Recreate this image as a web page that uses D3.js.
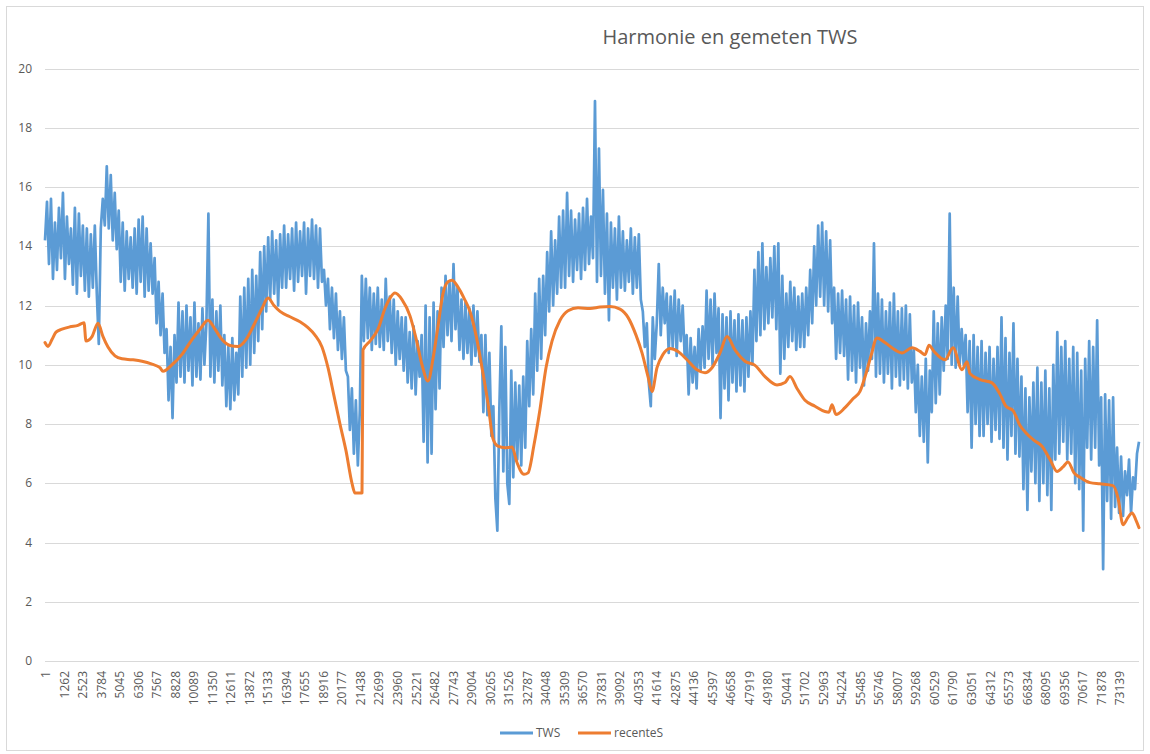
<!DOCTYPE html>
<html lang="nl">
<head>
    <meta charset="UTF-8">
    <title>Harmonie en gemeten TWS</title>
    <script src="https://cdnjs.cloudflare.com/ajax/libs/d3/7.8.5/d3.min.js"></script>
    <style>
        body {
            margin: 0;
            background: #fff;
            font-family: 'Open Sans', 'Noto Sans', sans-serif;
        }

        svg#main text {
            fill: #595959;
        }

        line.grid {
            stroke: #d9d9d9;
            stroke-width: 1px;
        }

        path.tws {
            fill: none;
            stroke: #5b9bd5;
            stroke-width: 2.7px;
            stroke-linejoin: round;
        }

        path.recent {
            fill: none;
            stroke: #ed7d31;
            stroke-width: 3px;
            stroke-linejoin: round;
            stroke-linecap: round;
        }
    </style>
</head>

<body>
    <svg id="main" width="1150" height="754"></svg>
    <script>
        "use strict";

        const categoryCount = 74505;
        const labelStep = 1261;
        const labelCount = 59;
        const yTicks = [0, 2, 4, 6, 8, 10, 12, 14, 16, 18, 20];
        const seriesNames = ["TWS", "recenteS"];

        // gemeten TWS, evenly spaced over all categories (lows and highs)
        const tws = [
            14.2, 15.5, 13.4, 15.6, 12.9, 14.8, 13.2, 15.3, 13.6, 15.8,
            12.9, 15.0, 13.4, 14.6, 12.7, 15.3, 12.4, 15.1, 13.0, 14.7,
            12.5, 14.6, 12.3, 14.4, 12.6, 14.7, 12.4, 10.7, 14.6, 15.6,
            14.7, 16.7, 14.6, 16.4, 14.2, 15.8, 13.9, 15.2, 12.8, 14.8,
            12.5, 14.5, 12.9, 14.3, 12.6, 14.6, 12.4, 14.9, 12.8, 15.0,
            12.3, 14.6, 12.5, 14.1, 12.4, 13.6, 11.4, 12.8, 11.0, 12.4,
            10.4, 11.2, 8.8, 10.6, 8.2, 11.0, 9.4, 12.1, 9.6, 11.8,
            9.4, 12.0, 9.8, 11.6, 9.3, 12.1, 9.6, 11.4, 9.5, 11.9,
            10.0, 11.4, 15.1, 9.6, 12.2, 9.4, 11.8, 9.8, 12.0, 9.3,
            11.0, 8.6, 10.6, 8.5, 10.9, 8.8, 10.4, 9.0, 12.3, 9.6,
            12.6, 9.9, 12.9, 10.0, 13.2, 10.4, 13.0, 10.8, 13.8, 11.2,
            14.0, 11.8, 14.3, 12.2, 14.5, 12.4, 14.2, 12.0, 14.4, 12.6,
            14.7, 12.6, 14.4, 12.9, 14.6, 12.5, 14.8, 12.8, 14.5, 13.0,
            14.8, 12.4, 14.6, 13.0, 14.9, 12.9, 14.7, 12.6, 14.6, 12.8,
            13.2, 12.0, 12.9, 11.2, 12.6, 10.9, 12.4, 10.5, 11.8, 10.2,
            11.6, 9.8, 9.6, 7.8, 9.2, 7.0, 8.8, 6.6, 8.5, 13.0,
            10.8, 12.9, 10.9, 12.6, 10.5, 12.4, 10.7, 12.6, 10.6, 12.2,
            10.5, 12.9, 10.8, 12.3, 10.4, 12.2, 10.0, 11.8, 10.2, 11.6,
            9.8, 11.6, 9.4, 11.1, 9.2, 11.3, 9.0, 10.8, 9.6, 11.0,
            7.4, 12.0, 6.7, 11.6, 7.0, 12.1, 8.5, 11.8, 9.2, 12.6,
            10.6, 13.0, 11.0, 12.8, 10.8, 13.4, 11.2, 12.6, 10.5, 12.2,
            10.2, 12.1, 10.4, 11.9, 10.0, 12.0, 10.3, 11.8, 10.1, 11.0,
            8.4, 11.0, 8.3, 10.4, 7.6, 8.6, 5.5, 4.4, 8.5, 11.3,
            6.4, 10.6, 6.0, 5.3, 9.8, 6.2, 9.4, 6.8, 9.3, 6.6,
            9.6, 7.2, 10.8, 8.6, 11.2, 9.0, 12.4, 9.8, 12.9, 10.2,
            13.0, 11.0, 13.8, 11.8, 14.5, 12.0, 14.2, 12.4, 15.0, 12.6,
            15.2, 12.6, 15.8, 13.0, 15.2, 12.8, 14.9, 13.2, 15.1, 12.9,
            15.3, 13.2, 15.6, 13.4, 15.0, 13.6, 18.9, 12.8, 17.3, 13.0,
            15.9, 12.4, 15.1, 11.5, 14.8, 12.6, 14.6, 12.2, 15.0, 12.6,
            14.5, 12.5, 14.2, 12.8, 14.6, 12.4, 14.3, 12.6, 14.4, 12.2,
            11.8, 10.6, 11.4, 9.4, 8.6, 11.6, 10.2, 11.4, 13.4, 11.0,
            12.6, 11.4, 12.4, 10.4, 12.3, 10.6, 12.5, 10.3, 12.2, 10.8,
            12.0, 10.3, 11.0, 9.0, 10.9, 9.4, 10.6, 9.2, 11.2, 9.8,
            11.3, 9.9, 12.5, 10.2, 12.2, 10.0, 12.4, 10.4, 11.9, 8.2,
            11.7, 9.2, 11.6, 8.8, 11.8, 9.4, 11.5, 9.1, 11.7, 9.3,
            11.5, 9.1, 11.6, 9.6, 11.8, 10.0, 13.2, 10.8, 13.8, 11.0,
            14.1, 11.2, 13.3, 11.4, 13.6, 11.6, 14.0, 11.2, 14.1, 9.7,
            13.0, 10.2, 12.4, 10.6, 12.8, 10.8, 12.6, 10.5, 12.3, 10.6,
            12.4, 10.6, 12.6, 11.0, 13.2, 11.4, 14.0, 12.0, 14.7, 12.3,
            14.8, 12.0, 14.5, 11.8, 14.2, 11.4, 12.6, 10.2, 12.4, 10.4,
            12.5, 10.3, 12.2, 9.5, 12.3, 9.8, 12.0, 9.4, 12.1, 9.9,
            11.6, 9.3, 11.4, 9.8, 11.8, 10.2, 14.1, 9.6, 12.4, 9.7,
            12.2, 9.4, 11.8, 9.7, 12.1, 9.2, 12.4, 9.6, 11.8, 9.3,
            11.9, 9.5, 12.0, 9.2, 11.7, 9.4, 10.5, 8.4, 10.0, 7.6,
            9.6, 7.4, 10.2, 6.7, 9.8, 8.4, 11.8, 8.7, 11.4, 9.0,
            11.6, 9.8, 12.0, 10.2, 15.1, 10.0, 12.6, 9.9, 12.3, 10.0,
            11.2, 10.0, 11.0, 8.4, 10.8, 7.2, 11.0, 8.0, 10.6, 7.6,
            10.8, 7.6, 10.4, 8.0, 10.6, 7.4, 10.2, 7.8, 10.6, 7.5,
            11.6, 7.2, 10.9, 6.8, 10.4, 7.6, 11.4, 7.0, 10.2, 6.9,
            9.6, 5.8, 9.2, 5.1, 8.9, 6.4, 9.4, 6.0, 9.9, 5.4,
            9.4, 6.0, 9.8, 5.6, 9.2, 5.1, 10.0, 6.8, 11.1, 7.0,
            10.6, 7.4, 10.8, 6.8, 10.2, 7.0, 10.6, 6.0, 10.4, 5.8,
            9.8, 4.4, 10.2, 7.2, 10.8, 6.8, 10.6, 7.2, 11.5, 6.6,
            8.9, 3.1, 9.0, 5.4, 8.8, 4.8, 8.9, 5.2, 7.2, 5.0,
            6.9, 4.9, 6.4, 5.6, 6.8, 5.0, 6.2, 5.8, 7.0, 7.4
        ];

        // recenteS, category number and value
        const recentCat = [
            1, 205, 478, 750, 1159, 1704, 2248, 2657, 2793, 3202,
            3610, 3951, 4291, 4768, 5245, 5926, 6607, 7288, 7832, 8036,
            8649, 9330, 10011, 10556, 11101, 11578, 12055, 12600, 13144, 13689,
            14234, 14779, 15188, 15596, 16005, 16686, 17367, 17912, 18388, 18865,
            19274, 19682, 20090, 20499, 20908, 21112, 21589, 21657, 22134, 22678,
            23155, 23496, 23836, 24313, 24858, 25266, 25675, 26084, 26424, 26765,
            27105, 27446, 27718, 28127, 28535, 28944, 29353, 29762, 30170, 30511,
            30851, 31328, 31805, 32145, 32622, 32895, 33304, 33712, 34121, 34530,
            35075, 35620, 36301, 37118, 37799, 38480, 39161, 39705, 40250, 40659,
            41067, 41340, 41680, 42089, 42566, 43110, 43723, 44404, 44949, 45426,
            45970, 46447, 46991, 47672, 48353, 49034, 49852, 50396, 50737, 51214,
            51759, 52439, 53120, 53392, 53597, 53869, 54482, 55027, 55504, 55912,
            56253, 56662, 57207, 57888, 58365, 59046, 59591, 59932, 60204, 60545,
            61294, 61840, 62453, 62793, 62998, 63679, 64496, 65041, 65449, 65926,
            66403, 66810, 67355, 67900, 68445, 68922, 69331, 69671, 70080, 70489,
            71170, 71851, 72736, 73077, 73418, 73758, 74031, 74303, 74505
        ];
        const recentVal = [
            10.75, 10.62, 10.85, 11.1, 11.2, 11.28, 11.33, 11.42, 10.8, 10.95,
            11.4, 10.95, 10.6, 10.3, 10.2, 10.17, 10.12, 10.02, 9.9, 9.78,
            10.0, 10.35, 10.85, 11.2, 11.5, 11.2, 10.85, 10.65, 10.62, 10.85,
            11.35, 11.9, 12.25, 12.0, 11.8, 11.62, 11.45, 11.25, 11.0, 10.6,
            9.9, 8.95, 8.0, 7.1, 6.0, 5.67, 5.67, 10.5, 10.8, 11.2,
            11.9, 12.25, 12.42, 12.2, 11.65, 10.9, 10.0, 9.45, 10.2, 11.3,
            12.4, 12.8, 12.85, 12.62, 12.25, 11.8, 11.0, 9.9, 8.7, 7.5,
            7.25, 7.2, 7.22, 6.7, 6.3, 6.35, 7.3, 8.5, 9.9, 10.8,
            11.5, 11.82, 11.92, 11.9, 11.95, 11.97, 11.88, 11.6, 11.0, 10.4,
            9.6, 9.1, 9.9, 10.35, 10.55, 10.45, 10.17, 9.83, 9.73, 9.9,
            10.4, 10.95, 10.5, 10.12, 9.98, 9.6, 9.32, 9.4, 9.6, 9.2,
            8.8, 8.6, 8.42, 8.4, 8.65, 8.32, 8.55, 8.85, 9.1, 9.7,
            10.3, 10.9, 10.75, 10.5, 10.4, 10.57, 10.45, 10.34, 10.66, 10.45,
            10.17, 10.57, 9.83, 10.1, 9.7, 9.5, 9.39, 9.0, 8.6, 8.45,
            7.95, 7.7, 7.45, 7.25, 6.8, 6.4, 6.55, 6.72, 6.35, 6.2,
            6.02, 5.98, 5.92, 5.5, 4.6, 4.85, 5.0, 4.75, 4.5
        ];

        const width = 1150, height = 754;
        const margin = { top: 68.5, right: 11, bottom: 93, left: 45 };

        const svg = d3.select("svg#main");

        // chart border
        svg.append("rect")
            .attr("x", 6.5).attr("y", 6.5)
            .attr("width", width - 13).attr("height", height - 10)
            .attr("fill", "#fff")
            .attr("stroke", "#d9d9d9");

        const x = d3.scaleLinear()
            .domain([1, categoryCount])
            .range([margin.left, width - margin.right]);

        const y = d3.scaleLinear()
            .domain([0, 20])
            .range([height - margin.bottom, margin.top]);

        // gridlines
        svg.append("g").selectAll("line.grid")
            .data(yTicks)
            .join("line")
            .attr("class", "grid")
            .attr("x1", margin.left)
            .attr("x2", width - margin.right)
            .attr("y1", d => Math.round(y(d)) + 0.5)
            .attr("y2", d => Math.round(y(d)) + 0.5);

        // y labels
        svg.append("g").selectAll("text")
            .data(yTicks)
            .join("text")
            .attr("x", 32)
            .attr("y", d => y(d))
            .attr("dy", "0.35em")
            .attr("text-anchor", "end")
            .style("font-size", "12px")
            .text(d => d);

        // x labels, every 1261 categories
        const xLabels = d3.range(labelCount).map(k => 1 + k * labelStep);
        svg.append("g").selectAll("text")
            .data(xLabels)
            .join("text")
            .attr("transform", d => "translate(" + (x(d) + 1) + "," + (height - margin.bottom + 10) + ") rotate(-90)")
            .attr("dy", "0.35em")
            .attr("text-anchor", "end")
            .style("font-size", "12px")
            .text(d => d);

        // TWS
        const twsStep = (categoryCount - 1) / (tws.length - 1);
        const twsLine = d3.line()
            .x((d, i) => x(1 + i * twsStep))
            .y(d => y(d));

        svg.append("path")
            .datum(tws)
            .attr("class", "tws")
            .attr("d", twsLine);

        // recenteS
        const recentLine = d3.line()
            .x((d, i) => x(recentCat[i]))
            .y(d => y(d))
            .curve(d3.curveMonotoneX);

        svg.append("path")
            .datum(recentVal)
            .attr("class", "recent")
            .attr("d", recentLine);

        // title
        svg.append("text")
            .attr("x", 730)
            .attr("y", 44)
            .attr("text-anchor", "middle")
            .style("font-size", "20px")
            .text("Harmonie en gemeten TWS");

        // legend
        const legendColors = ["#5b9bd5", "#ed7d31"];
        const legendX = [500, 578];
        const legend = svg.append("g").selectAll("g")
            .data(seriesNames)
            .join("g")
            .attr("transform", (d, i) => "translate(" + legendX[i] + ",733)");

        legend.append("line")
            .attr("x1", 0).attr("x2", 33)
            .attr("stroke", (d, i) => legendColors[i])
            .attr("stroke-width", 3);

        legend.append("text")
            .attr("x", 36)
            .attr("dy", "0.35em")
            .style("font-size", "12px")
            .text(d => d);
    </script>
</body>

</html>
